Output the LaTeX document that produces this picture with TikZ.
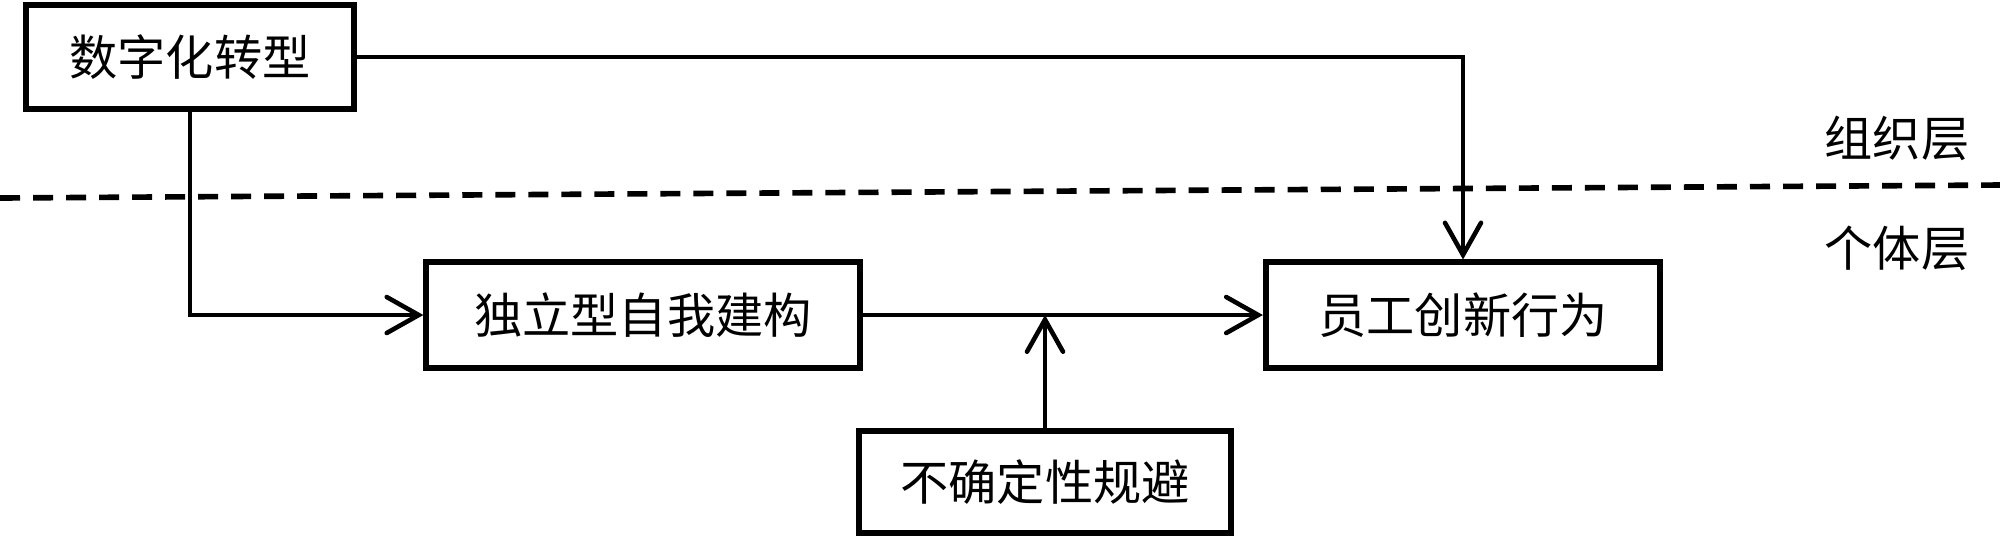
\documentclass[tikz,border=0pt]{standalone}
\usepackage{fontspec}
\newfontfamily\cjk{Noto Sans CJK SC}
\usetikzlibrary{positioning}
\usetikzlibrary{arrows.meta}
\begin{document}
\begin{tikzpicture}[x=0.01cm,y=-0.01cm,
  box/.style={draw,line width=1.7pt,inner sep=0pt,font=\cjk\fontsize{13.7pt}{16pt}\selectfont},
  lbl/.style={inner sep=0pt,font=\cjk\fontsize{13.7pt}{16pt}\selectfont},
  arr/.style={line width=1.3pt,-{Straight Barb[length=3.2mm,width=3.6mm,line cap=round]}}]
 \useasboundingbox (0,0) rectangle (2000,541);
 \node[box,minimum width=3.27cm,minimum height=1.04cm] (trans) at (190,57) {数字化转型};
 \node[box,minimum width=4.33cm,minimum height=1.06cm] (indep) at (643,315) {独立型自我建构};
 \node[box,minimum width=3.94cm,minimum height=1.05cm] (innov) at (1463,315) {员工创新行为};
 \node[box,minimum width=3.72cm,minimum height=1.02cm] (uncert) at (1045,482) {不确定性规避};
 \node[lbl] (org) at (1897,138) {组织层};
 \node[lbl] (ind) at (1897,248) {个体层};
 \draw[line width=1.6pt,dash pattern=on 2mm off 1.3mm] (0,198)--(2000,185);
 \draw[arr] (trans.east) -| (innov.north);
 \draw[arr] (trans.south) |- (indep.west);
 \draw[arr] (indep) -- (innov);
 \draw[arr] (uncert.north) -- (uncert.north |- indep.east);
\end{tikzpicture}
\end{document}
